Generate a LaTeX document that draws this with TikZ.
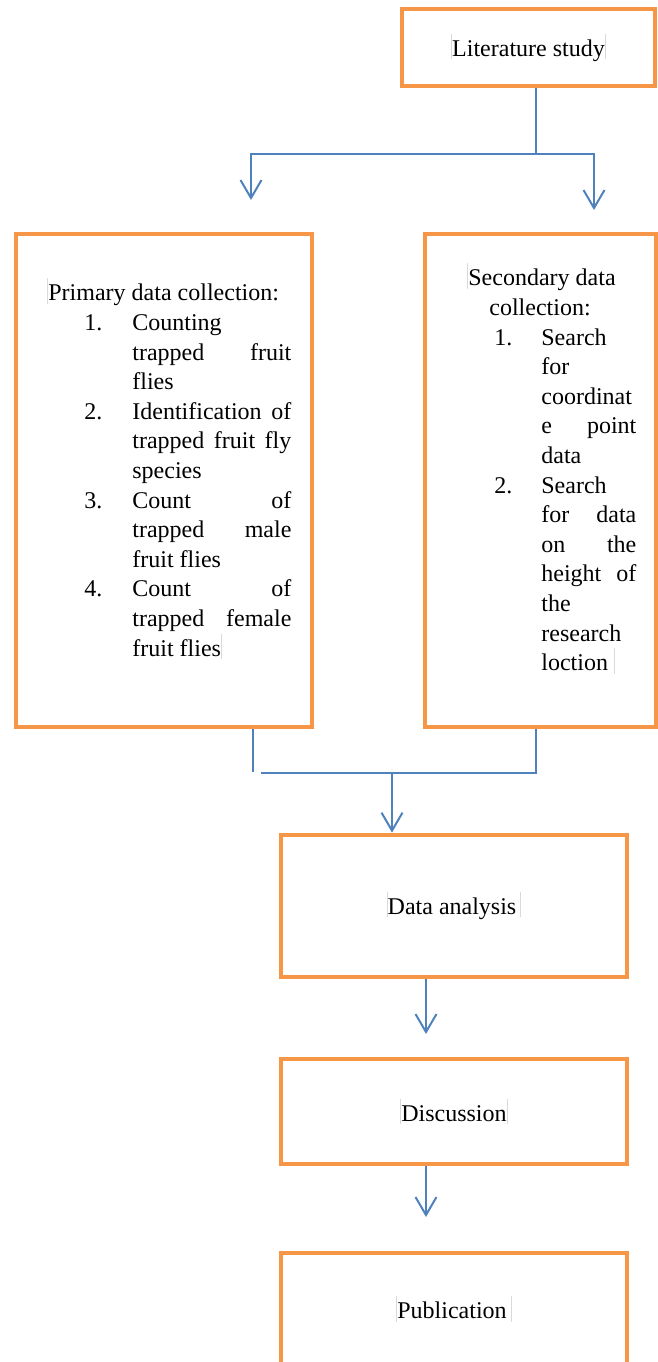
\documentclass[tikz,border=0pt]{standalone}
\usepackage{fontspec}
\setmainfont{Liberation Serif}
\usetikzlibrary{arrows.meta}
\definecolor{boxorange}{HTML}{F79646}
\definecolor{linkblue}{HTML}{4F81BD}
\newcommand{\mk}{\textcolor{black!15}{\rule[-0.25ex]{0.5pt}{2.3ex}}}
\newcommand{\priline}[2]{\hspace*{18.5pt}\makebox[24pt][l]{#1}#2}
\newcommand{\secline}[2]{\hspace*{13.5pt}\makebox[23.5pt][l]{#1}#2}
\begin{document}
\begin{tikzpicture}[x=0.5pt, y=-0.5pt,
    box/.style={draw=boxorange, line width=2.4pt, rectangle, inner sep=0pt, font=\fontsize{12}{14.8}\selectfont},
    link/.style={draw=linkblue, line width=1pt},
    tip/.style={-{Straight Barb[length=9pt, width=10.5pt, line width=1pt]}},
    txt/.style={inner sep=0pt, anchor=north west, align=left, font=\fontsize{12}{14.8}\selectfont}]
    \useasboundingbox (0, 0) rectangle (658, 1362);
    % boxes
    \node[box, minimum width=126.5pt, minimum height=38.5pt] (lit) at (528.5, 47.5) {\mk Literature study\mk};
    \node[box, minimum width=148pt, minimum height=246.5pt] (prim) at (164, 480.5) {};
    \node[box, minimum width=115.5pt, minimum height=246.5pt] (sec) at (540.5, 480.5) {};
    \node[box, minimum width=173pt, minimum height=71pt] (data) at (454, 906) {\mk Data analysis\,\mk};
    \node[box, minimum width=173pt, minimum height=52.5pt] (disc) at (454, 1111.5) {\mk Discussion\mk};
    \node[box, minimum width=173pt, minimum height=56pt] (pub) at (454, 1309) {\mk Publication\,\mk};
    % box texts
    \node[txt] (primtxt) at (47, 278) {\mk Primary data collection:\\
        \priline{1.}{Counting}\\
        \priline{}{\makebox[79.5pt][s]{trapped fruit}}\\
        \priline{}{flies}\\
        \priline{2.}{\makebox[79.5pt][s]{Identification of}}\\
        \priline{}{\makebox[79.5pt][s]{trapped fruit fly}}\\
        \priline{}{species}\\
        \priline{3.}{\makebox[79.5pt][s]{Count of}}\\
        \priline{}{\makebox[79.5pt][s]{trapped male}}\\
        \priline{}{fruit flies}\\
        \priline{4.}{\makebox[79.5pt][s]{Count of}}\\
        \priline{}{\makebox[79.5pt][s]{trapped female}}\\
        \priline{}{fruit flies\mk}};
    \node[txt] (sectxt) at (467, 263) {\mk Secondary data\\
        \hspace*{11pt}collection:\\
        \secline{1.}{Search}\\
        \secline{}{for}\\
        \secline{}{coordinat}\\
        \secline{}{\makebox[47.5pt][s]{e point}}\\
        \secline{}{data}\\
        \secline{2.}{Search}\\
        \secline{}{\makebox[47.5pt][s]{for data}}\\
        \secline{}{\makebox[47.5pt][s]{on the}}\\
        \secline{}{\makebox[47.5pt][s]{height of}}\\
        \secline{}{the}\\
        \secline{}{research}\\
        \secline{}{loction\ \mk}};
    % connector points
    \coordinate (fork) at (536, 154);
    \coordinate (primtip) at (251, 200);
    \coordinate (sectip) at (594, 210);
    \coordinate (joinl) at (253, 772);
    \coordinate (joinr) at (536, 773);
    \coordinate (joingap) at (261, 773);
    \coordinate (joinm) at (392, 773);
    \coordinate (datatip) at (426, 1034);
    \coordinate (disctip) at (426, 1217);
    % connectors
    \draw[link] (lit.south -| fork) -- (fork);
    \draw[link, tip] (fork) -| (primtip);
    \draw[link, tip] (fork) -| (sectip);
    \draw[link] (prim.south -| joinl) -- (joinl);
    \draw[link] (sec.south -| joinr) -- (joinr) -- (joingap);
    \draw[link, tip] (joinm) -- (data.north -| joinm);
    \draw[link, tip] (data.south -| datatip) -- (datatip);
    \draw[link, tip] (disc.south -| disctip) -- (disctip);
\end{tikzpicture}
\end{document}
